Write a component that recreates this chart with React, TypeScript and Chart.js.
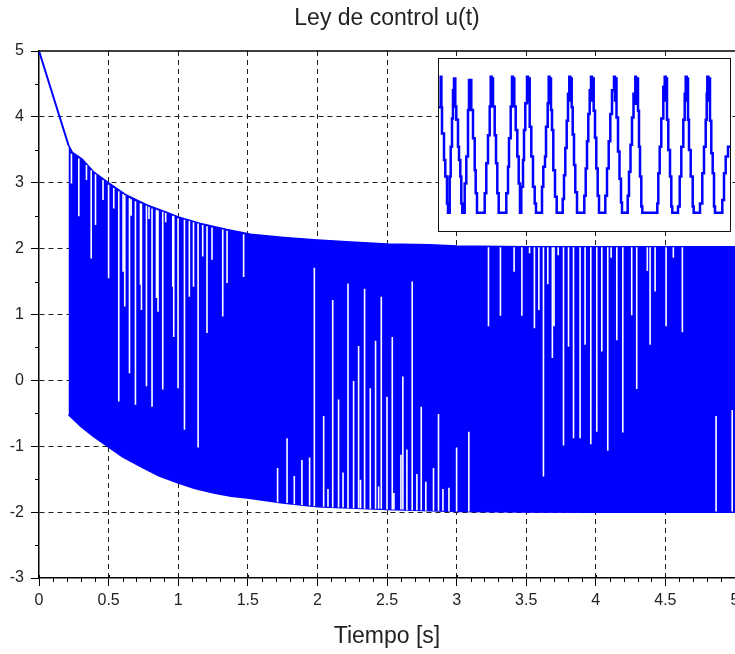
import { useEffect, useRef } from "react";
import { Chart, registerables } from "chart.js";

Chart.register(...registerables);

const FONT = "'Liberation Sans', Arial, Helvetica, sans-serif";
const TEXT = "#222";
const BLUE = "#0000ff";

// initial transient (before the sliding regime starts)
const startT = [0, 0.212];
const startU = [5, 3.57];

// upper envelope of the chattering signal
const upperT = [0.212, 0.24, 0.31, 0.39, 0.5, 0.63, 0.78, 0.92, 1.0, 1.16, 1.35, 1.52, 1.76, 2.0, 2.24, 2.5, 2.81, 3.0, 3.5, 4.0, 4.5, 5.0];
const upperU = [3.57, 3.46, 3.36, 3.17, 3.0, 2.81, 2.66, 2.55, 2.48, 2.38, 2.29, 2.22, 2.17, 2.13, 2.1, 2.07, 2.06, 2.04, 2.03, 2.03, 2.03, 2.03];

// lower envelope of the chattering signal
const lowerT = [0.212, 0.3, 0.39, 0.49, 0.6, 0.73, 0.86, 1.0, 1.12, 1.255, 1.38, 1.51, 1.75, 2.0, 2.5, 3.0, 3.5, 4.0, 4.5, 5.0];
const lowerU = [-0.52, -0.7, -0.85, -1.0, -1.16, -1.31, -1.45, -1.56, -1.64, -1.71, -1.76, -1.79, -1.86, -1.92, -1.96, -1.99, -2.0, -2.0, -2.0, -2.0];

// gaps in the chattering (white vertical strokes): time, start value, end value
const gapT = [
  0.233, 0.286, 0.341, 0.375, 0.406, 0.46, 0.5, 0.537, 0.573, 0.604, 0.616, 0.65, 0.662, 0.693, 0.729, 0.736,
  0.772, 0.79, 0.812, 0.844, 0.855, 0.889, 0.91, 0.961, 0.968, 0.999, 1.045, 1.08, 1.11, 1.143, 1.176, 1.207,
  1.243, 1.32, 1.351, 1.47,
  1.714, 1.782, 1.834, 1.889, 1.944, 1.978, 2.045, 2.076, 2.11, 2.152, 2.184, 2.22, 2.26, 2.296, 2.31, 2.339,
  2.38, 2.418, 2.44, 2.459, 2.5, 2.538, 2.55, 2.6, 2.614, 2.643, 2.681, 2.715, 2.746, 2.779, 2.834, 2.87,
  2.902, 2.945, 3.0, 3.088, 4.864, 4.98,
  3.229, 3.315, 3.413, 3.469, 3.524, 3.559, 3.591, 3.624, 3.655, 3.688, 3.7, 3.73, 3.768, 3.804, 3.84, 3.887,
  3.923, 3.964, 4.007, 4.043, 4.086, 4.11, 4.151, 4.194, 4.258, 4.294, 4.37, 4.39, 4.426, 4.505, 4.557, 4.622,
];
const gapFrom = [
  3.44, 3.37, 3.27, 3.19, 3.13, 3.04, 2.97, 2.92, 2.87, 2.83, 2.81, 2.77, 2.75, 2.72, 2.69, 2.68,
  2.65, 2.63, 2.61, 2.59, 2.58, 2.56, 2.54, 2.5, 2.49, 2.46, 2.44, 2.42, 2.4, 2.38, 2.36, 2.34,
  2.32, 2.29, 2.27, 2.22,
  -1.85, -1.86, -1.88, -1.89, -1.9, -1.91, -1.92, -1.92, -1.93, -1.93, -1.93, -1.94, -1.94, -1.94, -1.94, -1.95,
  -1.95, -1.95, -1.95, -1.95, -1.96, -1.96, -1.96, -1.96, -1.96, -1.97, -1.97, -1.97, -1.97, -1.98, -1.98, -1.98,
  -1.98, -1.99, -1.99, -1.99, -1.99, -1.99,
  2.02, 2.02, 2.02, 2.02, 2.02, 2.02, 2.02, 2.02, 2.02, 2.02, 2.02, 2.02, 2.02, 2.02, 2.02, 2.02,
  2.02, 2.02, 2.02, 2.02, 2.02, 2.02, 2.02, 2.02, 2.02, 2.02, 2.02, 2.02, 2.02, 2.02, 2.02, 2.02,
];
const gapTo = [
  2.99, 2.49, 3.04, 1.85, 2.36, 2.74, 1.55, 2.61, -0.32, 1.65, 1.12, 0.11, 2.5, -0.37, 1.45, 1.07,
  -0.09, 2.45, -0.4, 1.25, 1.04, -0.14, 2.4, 1.42, 0.66, -0.12, -0.75, 1.27, 1.42, -1.02, 1.88, 0.72,
  1.83, 0.97, 1.48, 1.57,
  -1.33, -0.88, -1.45, -1.21, -1.17, 1.71, -0.54, -1.65, 1.22, -0.29, -1.4, 1.47, -0.01, 0.52, -1.51, 1.39,
  -0.12, 0.6, -1.61, 1.27, -0.25, 0.66, -1.71, -1.13, 0.06, -1.05, 1.5, -1.42, -0.4, -1.54, -1.33, -0.51,
  -1.65, -1.63, -1.02, -0.78, -0.54, -0.45,
  0.82, 0.98, 1.65, 0.98, 1.93, 0.79, 1.07, -1.46, 1.46, 0.34, 0.82, 1.9, -0.99, 0.51, -0.88, -0.88,
  0.54, -0.97, -0.78, 0.44, -1.07, 1.86, 0.61, -0.79, 0.99, -0.13, 1.66, 0.54, 1.35, 0.82, 1.86, 0.73,
];

// inset: zoom on the chattering (sample position, held value)
const insetK = [
  0, 1.7, 2.4, 3, 5, 6.3, 8, 9, 10.7, 11.7, 13, 14, 15, 16.3, 17.3, 19, 20, 21.3, 22.3, 23.3,
  25.7, 27.3, 29, 30, 31, 31.6, 32.3, 34, 35.7, 36.7, 38,
  45.7, 47.3, 49, 50.7, 51.7, 52.7, 53.3, 54, 55.7, 57, 58.3, 59.7,
  67.3, 69, 70, 71.7, 73, 74, 74.6, 75.3, 76.7, 78.3, 79.7, 81,
  82.3, 84, 85, 86.3, 88, 89, 89.7, 90.7, 92.3, 94, 95.7, 97,
  103, 104.3, 106, 107, 108.7, 109.7, 110.5, 111.2, 112, 113, 114.3, 116, 117.7,
  123.7, 125, 126.3, 127.7, 129, 130.3, 131.3, 132, 132.7, 133.7, 135, 136.3, 138,
  145.3, 146.7, 148, 149.3, 150.7, 152, 153, 153.7, 154.7, 156, 157.3, 158.7, 160,
  166.3, 168, 169.7, 171.3, 173, 175, 176, 176.7, 177.5, 179, 180.5, 182, 183,
  188.7, 190, 191.5, 193, 194.5, 196.3, 197, 197.7, 199, 200, 201, 202.3, 203.3,
  218.3, 219.3, 220.7, 222.3, 224.3, 225.7, 226.7, 227.3, 228, 229.3, 231, 232.3, 233.3,
  239, 240.7, 242.3, 244.3, 245.7, 246.7, 247.7, 248.3, 249, 250, 251.7, 253.7, 254.7,
  261, 263.3, 265, 266.7, 267.7, 268.3, 269.3, 270, 271, 272.3, 273.7, 275, 276,
  283.3, 285, 286.7, 289, 291,
];
const insetV = [
  1.1, 2.0, 1.1, 0.33, -0.45, -0.94, -1.73, -2.0, -0.94, -0.06, 0.77, 1.6, 1.95, 1.12, 0.73, -0.06, -0.45, -0.94, -1.73, -2.0,
  -1.14, -0.35, 1.02, 1.9, 1.2, 1.9, 1.02, 0.19, -0.75, -1.43, -2.0,
  -1.43, -0.55, 0.28, 1.12, 2.0, 1.3, 1.95, 1.12, 0.28, -0.55, -1.43, -2.0,
  -1.43, -0.65, 0.19, 1.12, 2.0, 1.3, 1.95, 1.12, 0.43, -0.35, -1.14, -2.0,
  -1.24, -0.45, 0.43, 1.22, 2.0, 1.3, 1.95, 0.53, -0.35, -1.24, -1.73, -2.0,
  -1.24, -0.65, -0.35, 0.53, 1.22, 2.0, 1.3, 1.95, 1.02, 0.43, -0.75, -1.53, -2.0,
  -1.6, -0.9, -0.1, 0.7, 1.5, 2.0, 1.3, 1.95, 1.1, 0.3, -0.6, -1.4, -2.0,
  -1.5, -0.7, 0.1, 0.9, 1.6, 2.0, 1.3, 1.95, 1.0, 0.2, -0.7, -1.5, -2.0,
  -1.5, -0.7, 0.1, 0.9, 1.6, 2.0, 1.3, 1.95, 0.8, -0.2, -1.0, -1.7, -2.0,
  -1.5, -0.8, 0.0, 0.8, 1.5, 2.0, 1.2, 1.95, 1.0, -0.06, -0.94, -1.82, -2.0,
  -1.73, -0.84, -0.06, 0.77, 1.7, 2.0, 1.3, 1.95, 0.73, -0.16, -0.94, -1.82, -2.0,
  -1.82, -0.94, -0.06, 0.73, 1.5, 2.0, 1.3, 1.95, 0.73, -0.16, -0.94, -1.82, -2.0,
  -1.73, -0.84, -0.06, 0.73, 1.5, 2.0, 1.3, 1.95, 0.7, -0.25, -0.84, -1.82, -2.0,
  -1.63, -0.84, -0.35, -0.06, -0.06,
];

const pts = (xs: number[], ys: number[]) => xs.map((x, i) => ({ x, y: ys[i] }));

const axesDecor = {
  id: "axesDecor",
  afterDraw(chart: any) {
    const { ctx, chartArea: a, scales } = chart;
    const xs = scales.x;
    const ys = scales.y;
    ctx.save();
    ctx.strokeStyle = "#000";
    ctx.lineWidth = 1.5;
    ctx.beginPath();
    ctx.moveTo(a.left, a.top);
    ctx.lineTo(a.right, a.top);
    ctx.stroke();
    ctx.lineWidth = 1;
    ctx.beginPath();
    for (let i = 0; i <= 50; i++) {
      const px = Math.round(xs.getPixelForValue(i / 10)) + 0.5;
      if (i % 5 === 0) {
        ctx.moveTo(px, a.bottom - 3);
        ctx.lineTo(px, a.bottom);
      } else {
        ctx.moveTo(px, a.bottom);
        ctx.lineTo(px, a.bottom + 4);
      }
    }
    for (let i = -6; i <= 10; i++) {
      if (i % 2 === 0) continue;
      const py = Math.round(ys.getPixelForValue(i / 2)) + 0.5;
      ctx.moveTo(a.left - 4, py);
      ctx.lineTo(a.left, py);
    }
    ctx.stroke();
    ctx.restore();
  },
};

export default function App() {
  const mainRef = useRef<HTMLCanvasElement>(null);
  const insetRef = useRef<HTMLCanvasElement>(null);

  useEffect(() => {
    const gapPoints: any[] = [];
    gapT.forEach((t, i) => {
      gapPoints.push({ x: t, y: gapFrom[i] }, { x: t, y: gapTo[i] }, { x: t, y: null });
    });

    const hideEdge = (lo: number, hi: number) => (c: any) =>
      c.tick && (c.tick.value === lo || c.tick.value === hi) ? "rgba(0,0,0,0)" : "#1e1e1e";

    const main = new Chart(mainRef.current!, {
      type: "line",
      data: {
        datasets: [
          {
            data: gapPoints,
            borderColor: "#ffffff",
            borderWidth: 1.6,
            pointRadius: 0,
            fill: false,
            spanGaps: false,
          },
          {
            data: pts(startT, startU),
            borderColor: BLUE,
            borderWidth: 2,
            pointRadius: 0,
            fill: false,
          },
          {
            data: pts(upperT, upperU),
            borderColor: BLUE,
            borderWidth: 1.5,
            pointRadius: 0,
            backgroundColor: BLUE,
            fill: "+1",
          },
          {
            data: pts(lowerT, lowerU),
            borderColor: BLUE,
            borderWidth: 1.5,
            pointRadius: 0,
            fill: false,
          },
        ],
      },
      options: {
        responsive: false,
        animation: false,
        devicePixelRatio: 1,
        layout: { padding: 0, autoPadding: false },
        elements: { line: { tension: 0 } },
        plugins: {
          legend: { display: false },
          tooltip: { enabled: false },
          title: {
            display: true,
            text: "Ley de control u(t)",
            color: TEXT,
            fullSize: false,
            font: { family: FONT, size: 23, weight: "normal" },
            padding: { top: 5, bottom: 18.4 },
          },
        },
        scales: {
          x: {
            type: "linear",
            min: 0,
            max: 5,
            afterFit: (s: any) => {
              s.height = 76;
              s.paddingLeft = 0;
              s.paddingRight = 0;
            },
            ticks: {
              stepSize: 0.5,
              color: TEXT,
              font: { family: FONT, size: 16 },
              padding: 5.4,
              maxRotation: 0,
              autoSkip: false,
              callback: (v: any) => String(Number(v)),
            },
            grid: {
              color: hideEdge(0, 5),
              lineWidth: 1,
              tickLength: 8,
              tickColor: "#000",
              tickWidth: 1,
            },
            border: { display: true, color: "#000", width: 1.5, dash: [5, 4] },
            title: {
              display: true,
              text: "Tiempo [s]",
              color: TEXT,
              font: { family: FONT, size: 23, weight: "normal" },
              padding: { top: 0, bottom: 4 },
            },
          },
          y: {
            type: "linear",
            min: -3,
            max: 5,
            afterFit: (s: any) => {
              s.width = 39;
              s.paddingTop = 0;
              s.paddingBottom = 0;
            },
            ticks: {
              stepSize: 1,
              color: TEXT,
              font: { family: FONT, size: 16 },
              padding: 7,
              callback: (v: any) => String(Number(v)),
            },
            grid: {
              color: hideEdge(-3, 5),
              lineWidth: 1,
              tickLength: 8,
              tickColor: "#000",
              tickWidth: 1,
            },
            border: { display: true, color: "#000", width: 1.5, dash: [5, 4] },
          },
        },
      },
      plugins: [axesDecor],
    } as any);

    const inset = new Chart(insetRef.current!, {
      type: "line",
      data: {
        datasets: [
          {
            data: pts(insetK, insetV),
            borderColor: BLUE,
            borderWidth: 2.5,
            pointRadius: 0,
            stepped: true,
            fill: false,
          },
        ],
      },
      options: {
        responsive: false,
        animation: false,
        devicePixelRatio: 1,
        layout: { padding: 0, autoPadding: false },
        plugins: { legend: { display: false }, tooltip: { enabled: false }, title: { display: false } },
        scales: {
          x: { type: "linear", min: 0, max: 291, display: false },
          y: { type: "linear", min: -2.54, max: 2.52, display: false },
        },
      },
    } as any);

    return () => {
      main.destroy();
      inset.destroy();
    };
  }, []);

  return (
    <div style={{ position: "fixed", left: 0, top: 0, width: 735, height: 654, background: "#fff" }}>
      <canvas ref={mainRef} width={735} height={654} style={{ position: "absolute", left: 0, top: 0 }} />
      <div
        style={{
          position: "absolute",
          left: 438,
          top: 58,
          width: 291,
          height: 172,
          border: "1px solid #111",
          background: "#fff",
        }}
      >
        <canvas ref={insetRef} width={291} height={172} style={{ display: "block" }} />
      </div>
    </div>
  );
}
